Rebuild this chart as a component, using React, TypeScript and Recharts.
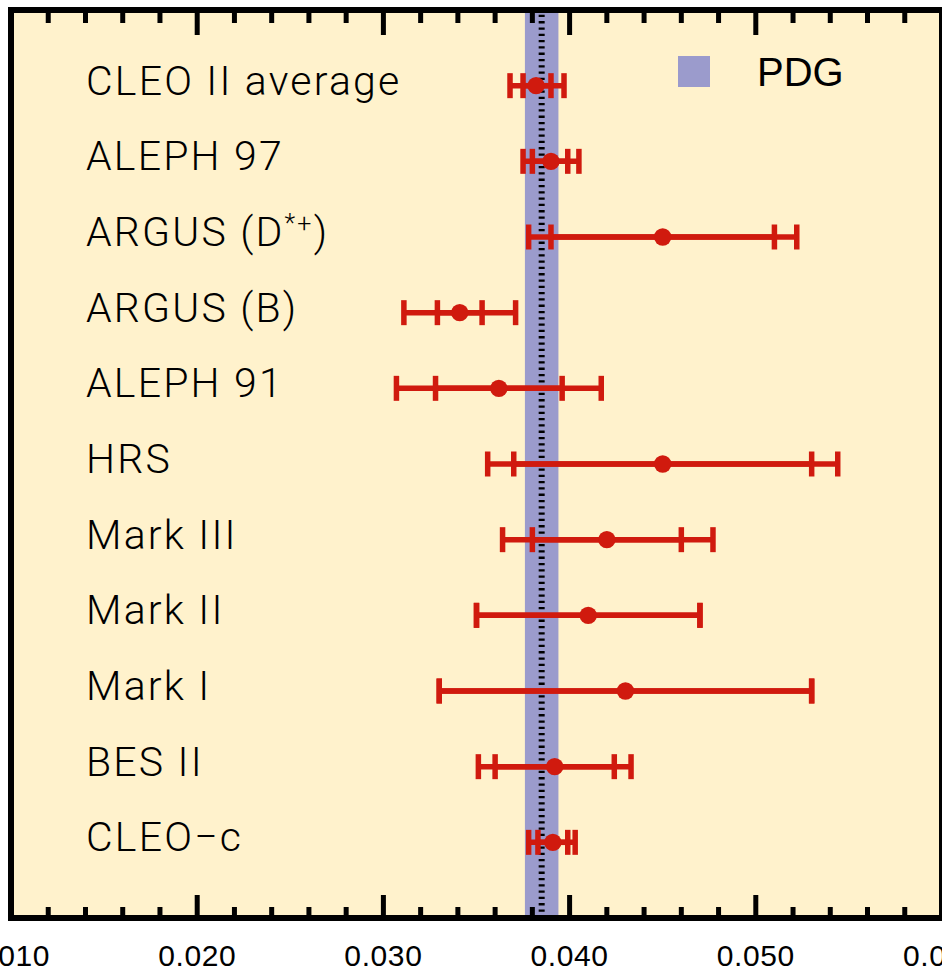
import React from 'react';
import {
  ComposedChart,
  Scatter,
  XAxis,
  YAxis,
  ErrorBar,
  ReferenceArea,
  ReferenceLine,
  CartesianGrid,
} from 'recharts';

// ---------------- data ----------------
const experiments = [
  'CLEO II average',
  'ALEPH 97',
  'ARGUS (D^{*+})',
  'ARGUS (B)',
  'ALEPH 91',
  'HRS',
  'Mark III',
  'Mark II',
  'Mark I',
  'BES II',
  'CLEO\u2212c',
];
const centralValues = [0.0382, 0.039, 0.045, 0.0341, 0.0362, 0.045, 0.042, 0.041, 0.043, 0.0392, 0.0391];
const statLow = [0.0375, 0.038, 0.039, 0.0329, 0.0328, 0.037, 0.038, 0.035, 0.033, 0.036, 0.0383];
const statHigh = [0.039, 0.0399, 0.051, 0.0353, 0.0396, 0.053, 0.046, 0.047, 0.053, 0.0424, 0.0399];
const totalLow = [0.0368, 0.0375, 0.0378, 0.0311, 0.0307, 0.0356, 0.0364, 0.035, 0.033, 0.0351, 0.0378];
const totalHigh = [0.0397, 0.0405, 0.0522, 0.0371, 0.0417, 0.0544, 0.0477, 0.047, 0.053, 0.0433, 0.0403];

const pdgValue = 0.0385;
const pdgLow = 0.0376;
const pdgHigh = 0.0394;
const pdgLabel = 'PDG';

const xDomain = [0.01, 0.06];
const xTicks = [
  0.01, 0.012, 0.014, 0.016, 0.018, 0.02, 0.022, 0.024, 0.026, 0.028, 0.03, 0.032, 0.034,
  0.036, 0.038, 0.04, 0.042, 0.044, 0.046, 0.048, 0.05, 0.052, 0.054, 0.056, 0.058, 0.06,
];
const xTickLabels = [
  '0.010', '', '', '', '', '0.020', '', '', '', '', '0.030', '', '', '', '', '0.040', '', '', '', '',
  '0.050', '', '', '', '', '0.060',
];
const rowTicks = [1, 2, 3, 4, 5, 6, 7, 8, 9, 10, 11];

// ---------------- styles ----------------
const CREAM = '#FFF2CC';
const BAND = '#9B9BCC';
const RED = '#D01A0E';
const SANS = '"Liberation Sans", Arial, Helvetica, sans-serif';
const LABEL_FONT = 'Roboto, "Noto Sans", sans-serif';

const rows = experiments.map((label, i) => ({
  label,
  x: centralValues[i],
  y: experiments.length - i,
  stat: [centralValues[i] - statLow[i], statHigh[i] - centralValues[i]],
  tot: [centralValues[i] - totalLow[i], totalHigh[i] - centralValues[i]],
}));

const tickIndex = (v: number) => xTicks.findIndex((t) => Math.abs(t - v) < 1e-9);

const BottomTick = (props: any) => {
  const { x, y, payload } = props;
  const idx = tickIndex(payload.value);
  const label = idx >= 0 ? xTickLabels[idx] : '';
  const major = label !== '';
  return (
    <g>
      <line x1={x} x2={x} y1={y} y2={y - (major ? 23 : 11)} stroke="#000" strokeWidth={5} />
      {major && (
        <text
          x={x}
          y={y + 48}
          textAnchor="middle"
          fontFamily={SANS}
          fontSize={30}
          letterSpacing={0.6}
          fill="#000"
        >
          {label}
        </text>
      )}
    </g>
  );
};

const TopTick = (props: any) => {
  const { x, y, payload } = props;
  const idx = tickIndex(payload.value);
  const major = idx >= 0 && xTickLabels[idx] !== '';
  return <line x1={x} x2={x} y1={y} y2={y + (major ? 25 : 13)} stroke="#000" strokeWidth={5} />;
};

const renderLabel = (s: string) => {
  const m = s.match(/^(.*)\^\{(.*)\}(.*)$/);
  if (!m) return s;
  return (
    <>
      {m[1]}
      <tspan fontSize={25} dy={-14}>
        {m[2]}
      </tspan>
      <tspan dy={14}>{m[3]}</tspan>
    </>
  );
};

const RowLabel = (props: any) => {
  const { x, y, payload } = props;
  const label = experiments[experiments.length - payload.value];
  if (!label) return <g />;
  return (
    <text
      x={x + 75}
      y={y + 9}
      textAnchor="start"
      fontFamily={LABEL_FONT}
      fontWeight={300}
      fontSize={41}
      letterSpacing={2.2}
      fill="#000"
    >
      {renderLabel(label)}
    </text>
  );
};

const Dot = (props: any) => <circle cx={props.cx} cy={props.cy} r={8.7} fill={RED} />;
const NoShape = () => <g />;

export default function App() {
  return (
    <div
      style={{
        position: 'fixed',
        left: 0,
        top: 0,
        width: 942,
        height: 972,
        overflow: 'hidden',
        background: '#fff',
      }}
    >
      <div style={{ position: 'absolute', left: -50, top: 0 }}>
        <ComposedChart
          width={1040}
          height={972}
          data={rows}
          margin={{ top: 0, right: 48, bottom: 0, left: 60 }}
        >
          <CartesianGrid fill={CREAM} fillOpacity={1} horizontal={false} vertical={false} stroke="none" />
          <XAxis
            xAxisId={0}
            type="number"
            dataKey="x"
            domain={xDomain}
            ticks={xTicks}
            interval={0}
            allowDataOverflow
            height={54}
            axisLine={false}
            tickLine={false}
            tickSize={0}
            tickMargin={0}
            tick={<BottomTick />}
          />
          <XAxis
            xAxisId="top"
            orientation="top"
            type="number"
            dataKey="x"
            domain={xDomain}
            ticks={xTicks}
            interval={0}
            allowDataOverflow
            height={10}
            axisLine={false}
            tickLine={false}
            tickSize={0}
            tickMargin={0}
            tick={<TopTick />}
          />
          <YAxis
            yAxisId={0}
            type="number"
            dataKey="y"
            domain={[0, 12]}
            ticks={rowTicks}
            interval={0}
            allowDataOverflow
            width={1}
            axisLine={false}
            tickLine={false}
            tickSize={0}
            tickMargin={0}
            tick={<RowLabel />}
          />
          <ReferenceArea
            x1={pdgLow}
            x2={pdgHigh}
            y1={0}
            y2={12}
            fill={BAND}
            fillOpacity={1}
            stroke="none"
          />
          <ReferenceLine x={pdgValue} stroke="#000" strokeWidth={6} strokeDasharray="2.3 4" />
          <Scatter data={rows} dataKey="x" xAxisId="top" isAnimationActive={false} shape={<NoShape />} />
          <Scatter data={rows} dataKey="x" isAnimationActive={false} shape={<Dot />}>
            <ErrorBar dataKey="tot" direction="x" width={12.5} stroke={RED} strokeWidth={5.5} isAnimationActive={false} />
            <ErrorBar dataKey="stat" direction="x" width={12.5} stroke={RED} strokeWidth={5.5} isAnimationActive={false} />
          </Scatter>
          <ReferenceArea
            x1={xDomain[0]}
            x2={xDomain[1]}
            y1={0}
            y2={12}
            fill="none"
            stroke="#000"
            strokeWidth={6}
          />
        </ComposedChart>
      </div>
      <div
        style={{
          position: 'absolute',
          left: 678,
          top: 56,
          width: 32,
          height: 31,
          background: BAND,
        }}
      />
      <div
        style={{
          position: 'absolute',
          left: 757,
          top: 52,
          fontFamily: SANS,
          fontSize: 40,
          lineHeight: '40px',
          color: '#000',
          whiteSpace: 'nowrap',
        }}
      >
        {pdgLabel}
      </div>
    </div>
  );
}
